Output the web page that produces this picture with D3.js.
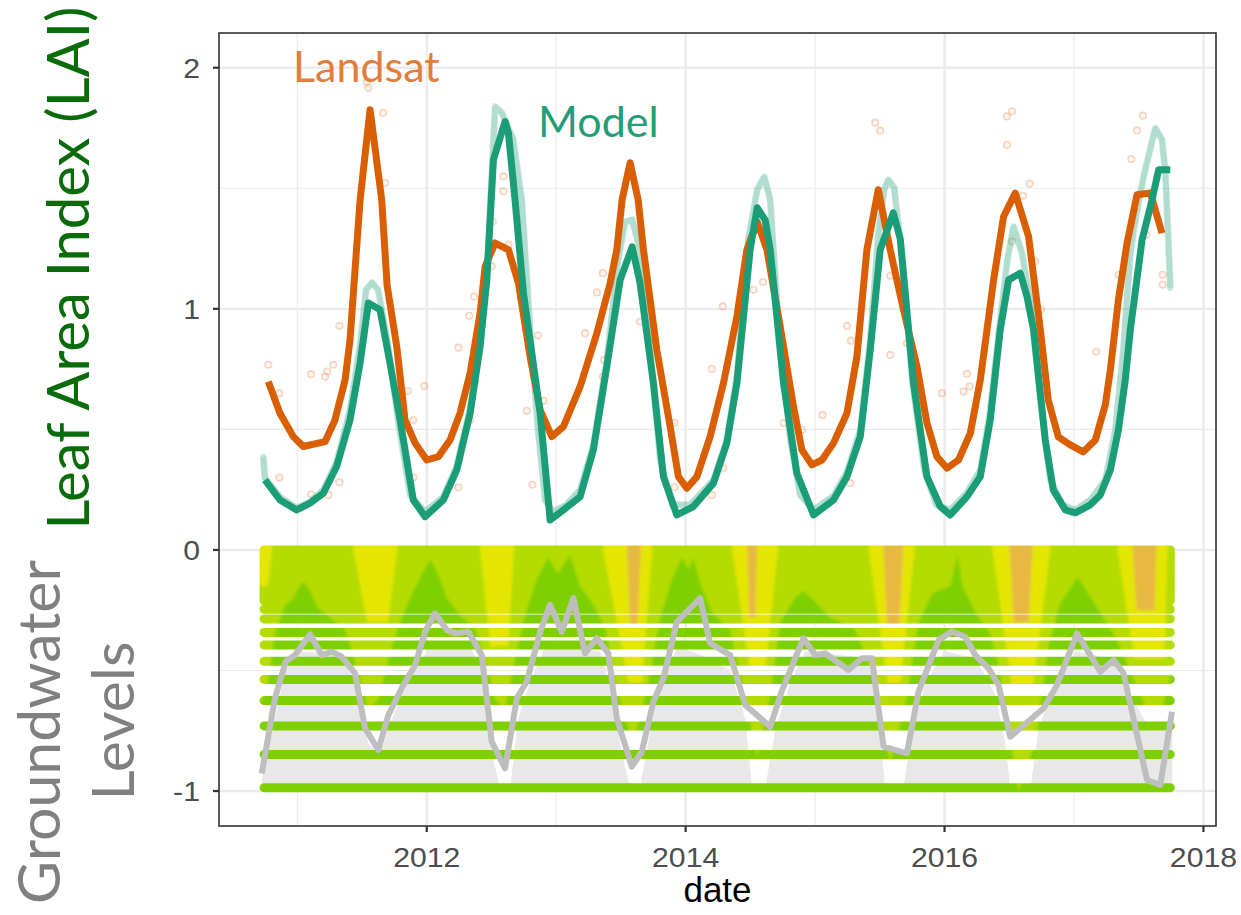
<!DOCTYPE html>
<html><head><meta charset="utf-8">
<script src="https://cdn.jsdelivr.net/npm/d3@7"></script>
<style>body{margin:0;background:#fff}svg{display:block}</style>
</head><body><svg id="chart" width="1241" height="915"></svg>
<script>
// ---------- data ----------
const xTicks = [2012, 2014, 2016, 2018];
const xMinor = [2011, 2013, 2015, 2017];
const yTicks = [-1, 0, 1, 2];
const yMinor = [-0.5, 0.5, 1.5];

// Landsat smoothed LAI [decimal year, LAI]
const landsatLine = [[2010.776,0.698],[2010.866,0.567],[2010.969,0.470],[2011.046,0.429],[2011.214,0.449],[2011.291,0.539],[2011.369,0.705],[2011.407,0.871],[2011.485,1.452],[2011.562,1.826],[2011.652,1.452],[2011.693,1.100],[2011.768,0.844],[2011.832,0.539],[2011.910,0.443],[2012.000,0.373],[2012.090,0.387],[2012.180,0.456],[2012.257,0.567],[2012.335,0.733],[2012.412,0.982],[2012.451,1.176],[2012.528,1.273],[2012.631,1.245],[2012.708,1.107],[2012.798,0.802],[2012.876,0.581],[2012.966,0.470],[2013.056,0.512],[2013.185,0.678],[2013.314,0.899],[2013.417,1.107],[2013.468,1.245],[2013.509,1.452],[2013.571,1.606],[2013.633,1.452],[2013.674,1.245],[2013.777,0.830],[2013.880,0.512],[2013.944,0.304],[2014.009,0.256],[2014.087,0.304],[2014.189,0.470],[2014.292,0.692],[2014.396,0.968],[2014.473,1.245],[2014.553,1.361],[2014.628,1.245],[2014.730,0.927],[2014.833,0.595],[2014.898,0.415],[2014.975,0.353],[2015.053,0.373],[2015.142,0.443],[2015.246,0.567],[2015.323,0.802],[2015.400,1.245],[2015.488,1.494],[2015.580,1.245],[2015.683,0.996],[2015.787,0.761],[2015.864,0.526],[2015.941,0.387],[2016.019,0.339],[2016.108,0.373],[2016.199,0.484],[2016.276,0.705],[2016.328,0.913],[2016.379,1.120],[2016.456,1.383],[2016.546,1.480],[2016.649,1.300],[2016.740,0.913],[2016.801,0.622],[2016.879,0.469],[2016.971,0.436],[2017.072,0.407],[2017.165,0.456],[2017.242,0.602],[2017.281,0.747],[2017.343,1.037],[2017.410,1.273],[2017.487,1.473],[2017.590,1.480],[2017.680,1.314]];

// Landsat raw observations
const landsatObs = [[2010.776,0.768],[2010.861,0.650],[2010.861,0.300],[2011.106,0.729],[2011.106,0.231],[2011.214,0.719],[2011.232,0.740],[2011.278,0.768],[2011.325,0.929],[2011.240,0.228],[2011.325,0.281],[2011.536,1.942],[2011.549,1.916],[2011.662,1.813],[2011.678,1.522],[2011.853,0.660],[2011.896,0.539],[2011.896,0.300],[2011.981,0.680],[2012.244,0.839],[2012.244,0.260],[2012.329,0.971],[2012.335,0.539],[2012.366,1.051],[2012.373,0.698],[2012.502,1.176],[2012.510,1.362],[2012.592,1.549],[2012.592,1.487],[2012.631,1.266],[2012.773,0.577],[2012.816,0.270],[2012.858,0.889],[2012.901,0.618],[2013.223,0.899],[2013.314,1.068],[2013.360,1.148],[2013.360,0.719],[2013.370,0.788],[2013.648,0.947],[2013.764,0.871],[2013.913,0.528],[2013.913,0.260],[2014.202,0.750],[2014.202,0.228],[2014.287,1.010],[2014.292,0.339],[2014.524,1.079],[2014.597,1.111],[2014.756,0.526],[2014.898,0.498],[2015.057,0.560],[2015.246,0.929],[2015.271,0.277],[2015.277,0.868],[2015.464,1.772],[2015.503,1.739],[2015.580,1.137],[2015.580,0.809],[2015.709,0.858],[2015.980,0.650],[2016.147,0.657],[2016.173,0.730],[2016.193,0.678],[2016.482,1.798],[2016.521,1.819],[2016.482,1.680],[2016.521,1.279],[2016.606,1.469],[2016.657,1.519],[2016.701,1.196],[2016.745,0.996],[2016.801,0.382],[2017.172,0.822],[2017.345,1.141],[2017.443,1.621],[2017.487,1.740],[2017.533,1.801],[2017.559,1.307],[2017.685,1.141],[2017.685,1.100]];

// Model LAI, smoothed
const modelLine = [[2010.750,0.290],[2010.866,0.207],[2010.995,0.166],[2011.098,0.194],[2011.201,0.235],[2011.304,0.346],[2011.407,0.539],[2011.485,0.775],[2011.549,1.024],[2011.639,0.996],[2011.716,0.775],[2011.794,0.539],[2011.896,0.207],[2011.987,0.138],[2012.128,0.207],[2012.232,0.332],[2012.335,0.567],[2012.412,0.844],[2012.464,1.120],[2012.515,1.618],[2012.605,1.777],[2012.631,1.729],[2012.682,1.452],[2012.747,1.065],[2012.876,0.567],[2012.953,0.124],[2013.056,0.166],[2013.185,0.221],[2013.287,0.415],[2013.391,0.761],[2013.494,1.120],[2013.587,1.257],[2013.648,1.107],[2013.751,0.692],[2013.828,0.304],[2013.932,0.145],[2014.060,0.180],[2014.215,0.277],[2014.318,0.443],[2014.396,0.692],[2014.498,1.245],[2014.553,1.419],[2014.614,1.369],[2014.653,1.245],[2014.756,0.692],[2014.859,0.318],[2014.988,0.145],[2015.142,0.207],[2015.246,0.304],[2015.349,0.470],[2015.426,0.830],[2015.503,1.245],[2015.604,1.398],[2015.658,1.290],[2015.760,0.692],[2015.864,0.304],[2015.967,0.180],[2016.044,0.145],[2016.173,0.221],[2016.276,0.304],[2016.353,0.539],[2016.430,0.913],[2016.495,1.120],[2016.585,1.148],[2016.637,1.051],[2016.688,0.913],[2016.778,0.456],[2016.840,0.249],[2016.933,0.166],[2017.010,0.154],[2017.126,0.187],[2017.203,0.228],[2017.281,0.332],[2017.343,0.498],[2017.396,0.705],[2017.435,0.913],[2017.526,1.286],[2017.603,1.452],[2017.654,1.577],[2017.744,1.577]];

// Model daily output (faint trail)
const modelDaily = [[2010.737,0.387],[2010.750,0.299],[2010.866,0.220],[2010.995,0.174],[2011.098,0.199],[2011.201,0.249],[2011.304,0.365],[2011.407,0.581],[2011.485,0.851],[2011.531,1.079],[2011.577,1.108],[2011.624,1.079],[2011.701,0.851],[2011.778,0.539],[2011.871,0.228],[2011.987,0.158],[2012.128,0.220],[2012.232,0.349],[2012.335,0.589],[2012.412,0.871],[2012.474,1.245],[2012.528,1.839],[2012.580,1.813],[2012.669,1.701],[2012.734,1.452],[2012.798,0.913],[2012.860,0.498],[2012.914,0.207],[2012.976,0.158],[2013.077,0.187],[2013.185,0.249],[2013.287,0.436],[2013.391,0.788],[2013.478,1.203],[2013.532,1.361],[2013.587,1.369],[2013.648,1.245],[2013.726,0.830],[2013.803,0.373],[2013.896,0.187],[2014.035,0.187],[2014.215,0.290],[2014.318,0.456],[2014.396,0.726],[2014.483,1.286],[2014.553,1.494],[2014.607,1.548],[2014.653,1.452],[2014.715,0.954],[2014.808,0.456],[2014.885,0.228],[2014.988,0.166],[2015.142,0.224],[2015.246,0.324],[2015.349,0.498],[2015.426,0.871],[2015.488,1.307],[2015.534,1.494],[2015.565,1.535],[2015.611,1.502],[2015.673,1.203],[2015.750,0.705],[2015.843,0.332],[2015.936,0.187],[2016.044,0.166],[2016.173,0.237],[2016.276,0.332],[2016.353,0.581],[2016.430,0.954],[2016.485,1.203],[2016.533,1.341],[2016.598,1.231],[2016.662,1.037],[2016.740,0.622],[2016.817,0.290],[2016.910,0.187],[2017.010,0.166],[2017.126,0.207],[2017.242,0.290],[2017.319,0.498],[2017.381,0.830],[2017.435,1.228],[2017.474,1.369],[2017.538,1.549],[2017.628,1.750],[2017.680,1.701],[2017.706,1.564],[2017.731,1.259],[2017.744,1.086]];

// Groundwater level
const groundwater = [[2010.725,-0.927],[2010.828,-0.614],[2010.910,-0.463],[2010.982,-0.436],[2011.098,-0.350],[2011.189,-0.436],[2011.266,-0.422],[2011.343,-0.443],[2011.446,-0.512],[2011.523,-0.739],[2011.626,-0.830],[2011.703,-0.685],[2011.807,-0.573],[2011.910,-0.477],[2011.987,-0.339],[2012.064,-0.263],[2012.155,-0.332],[2012.219,-0.346],[2012.321,-0.339],[2012.425,-0.436],[2012.502,-0.795],[2012.605,-0.906],[2012.696,-0.614],[2012.773,-0.546],[2012.876,-0.339],[2012.953,-0.228],[2013.043,-0.339],[2013.133,-0.200],[2013.223,-0.429],[2013.314,-0.366],[2013.403,-0.429],[2013.468,-0.698],[2013.584,-0.899],[2013.661,-0.837],[2013.751,-0.629],[2013.828,-0.532],[2013.932,-0.298],[2014.112,-0.200],[2014.189,-0.387],[2014.344,-0.436],[2014.460,-0.643],[2014.653,-0.733],[2014.741,-0.588],[2014.910,-0.366],[2015.001,-0.436],[2015.078,-0.429],[2015.258,-0.498],[2015.362,-0.449],[2015.439,-0.449],[2015.529,-0.816],[2015.709,-0.844],[2015.799,-0.588],[2015.954,-0.373],[2016.057,-0.339],[2016.160,-0.360],[2016.237,-0.436],[2016.340,-0.491],[2016.417,-0.560],[2016.508,-0.775],[2016.765,-0.657],[2016.869,-0.560],[2017.023,-0.346],[2017.203,-0.505],[2017.306,-0.456],[2017.383,-0.512],[2017.564,-0.954],[2017.667,-0.975],[2017.757,-0.671]];

// Grey saturated-zone ribbon top
const greyTop = [[2010.727,-0.95],[2010.828,-0.70],[2010.905,-0.50],[2011.021,-0.42],[2011.330,-0.43],[2011.446,-0.55],[2011.546,-0.80],[2011.639,-0.85],[2011.716,-0.72],[2011.809,-0.60],[2011.910,-0.50],[2012.026,-0.40],[2012.335,-0.40],[2012.427,-0.50],[2012.505,-0.85],[2012.566,-1.05],[2012.644,-1.05],[2012.706,-0.70],[2012.798,-0.55],[2012.914,-0.40],[2013.339,-0.42],[2013.432,-0.60],[2013.509,-0.85],[2013.571,-1.05],[2013.648,-1.05],[2013.710,-0.80],[2013.803,-0.55],[2013.942,-0.40],[2014.189,-0.45],[2014.344,-0.50],[2014.460,-0.70],[2014.514,-1.05],[2014.615,-1.05],[2014.692,-0.75],[2014.808,-0.55],[2014.924,-0.42],[2015.426,-0.45],[2015.488,-0.70],[2015.542,-1.05],[2015.681,-1.05],[2015.751,-0.75],[2015.852,-0.55],[2016.006,-0.42],[2016.238,-0.45],[2016.393,-0.60],[2016.469,-0.80],[2016.508,-1.05],[2016.663,-1.05],[2016.725,-0.75],[2016.817,-0.60],[2017.010,-0.42],[2017.281,-0.45],[2017.435,-0.60],[2017.590,-0.75],[2017.760,-0.75]];

// Soil layers (depth) of the moisture plot
const soilDense = [0,-0.01,-0.02,-0.03,-0.04,-0.05,-0.06,-0.07,-0.08,-0.09,-0.10,-0.11,-0.12,-0.13,-0.14,-0.15,-0.16,-0.17,-0.18,-0.19,-0.20,-0.21];
const soilLayers = [-0.246,-0.286,-0.342,-0.394,-0.462,-0.537,-0.625,-0.730,-0.848,-0.986];
const soilStart = 2010.743, soilEnd = 2017.744;

// depth of wet (dark green) / moist (yellow-green) transition
const wetFront = [[2010.70,-0.62],[2010.727,-0.62],[2010.774,-0.55],[2010.828,-0.34],[2010.905,-0.23],[2010.967,-0.20],[2011.006,-0.16],[2011.044,-0.13],[2011.098,-0.17],[2011.160,-0.24],[2011.253,-0.28],[2011.369,-0.33],[2011.469,-0.50],[2011.549,-0.66],[2011.624,-0.62],[2011.701,-0.46],[2011.778,-0.32],[2011.871,-0.20],[2011.964,-0.10],[2012.026,-0.04],[2012.087,-0.10],[2012.157,-0.20],[2012.257,-0.27],[2012.373,-0.33],[2012.451,-0.45],[2012.528,-0.62],[2012.605,-0.66],[2012.682,-0.45],[2012.760,-0.27],[2012.852,-0.12],[2012.937,-0.03],[2013.014,-0.10],[2013.107,-0.02],[2013.185,-0.15],[2013.278,-0.22],[2013.378,-0.32],[2013.479,-0.60],[2013.595,-0.80],[2013.711,-0.55],[2013.803,-0.28],[2013.896,-0.12],[2013.974,-0.03],[2014.020,-0.08],[2014.059,-0.03],[2014.112,-0.14],[2014.205,-0.26],[2014.344,-0.33],[2014.437,-0.55],[2014.553,-0.86],[2014.653,-0.60],[2014.730,-0.30],[2014.845,-0.20],[2014.907,-0.17],[2014.976,-0.20],[2015.115,-0.28],[2015.308,-0.33],[2015.439,-0.50],[2015.578,-0.88],[2015.694,-0.65],[2015.799,-0.30],[2015.907,-0.18],[2016.046,-0.15],[2016.100,-0.02],[2016.138,-0.15],[2016.239,-0.26],[2016.355,-0.35],[2016.430,-0.50],[2016.569,-1.00],[2016.701,-0.80],[2016.801,-0.40],[2016.894,-0.22],[2016.971,-0.16],[2017.025,-0.11],[2017.110,-0.18],[2017.203,-0.26],[2017.319,-0.36],[2017.435,-0.50],[2017.590,-0.70],[2017.683,-0.65],[2017.760,-0.50],[2017.80,-0.50]];

// dry spells: yellow and orange zones [year, depth]
const drySpells = [
  [[2010.70,0],[2010.804,0],[2010.774,-0.15],[2010.70,-0.15]],
  [[2011.432,0],[2011.772,0],[2011.701,-0.30],[2011.539,-0.30]],
  [[2012.412,0],[2012.675,0],[2012.629,-0.40],[2012.490,-0.40]],
  [[2013.362,0],[2013.741,0],[2013.664,-0.55],[2013.556,-0.55]],
  [[2014.358,0],[2014.714,0],[2014.614,-0.50],[2014.498,-0.50]],
  [[2015.413,0],[2015.769,0],[2015.660,-0.55],[2015.560,-0.55]],
  [[2016.370,0],[2016.818,0],[2016.679,-0.58],[2016.524,-0.58]],
  [[2017.336,0],[2017.722,0],[2017.699,-0.45],[2017.467,-0.45]]
];
const hotSpells = [
  [[2013.546,0],[2013.656,0],[2013.625,-0.32],[2013.571,-0.32]],
  [[2014.475,0],[2014.553,0],[2014.537,-0.28],[2014.491,-0.28]],
  [[2015.526,0],[2015.681,0],[2015.650,-0.32],[2015.557,-0.32]],
  [[2016.503,0],[2016.681,0],[2016.650,-0.30],[2016.534,-0.30]],
  [[2017.452,0],[2017.638,0],[2017.622,-0.25],[2017.483,-0.25]]
];

// ---------- chart ----------
const svg = d3.select('#chart');
const L = 219, R = 1216, T = 33, B = 826;
const x = d3.scaleLinear().domain([2010.395, 2018.097]).range([L, R]);
const y = d3.scaleLinear().domain([-1.145, 2.144]).range([B, T]);

const defs = svg.append('defs');
defs.append('clipPath').attr('id','panel')
  .append('rect').attr('x',L).attr('y',T).attr('width',R-L).attr('height',B-T);
const blur = defs.append('filter').attr('id','soft').attr('x','-5%').attr('y','-5%').attr('width','110%').attr('height','110%');
blur.append('feGaussianBlur').attr('stdDeviation',1.6);

const grid = svg.append('g');
grid.selectAll('.ym').data(yMinor).join('line')
  .attr('x1',L).attr('x2',R).attr('y1',d=>y(d)).attr('y2',d=>y(d))
  .attr('stroke','#ebebeb').attr('stroke-width',1.2);
grid.selectAll('.xm').data(xMinor).join('line')
  .attr('y1',T).attr('y2',B).attr('x1',d=>x(d)).attr('x2',d=>x(d))
  .attr('stroke','#ebebeb').attr('stroke-width',1.2);
grid.selectAll('.yM').data(yTicks).join('line')
  .attr('x1',L).attr('x2',R).attr('y1',d=>y(d)).attr('y2',d=>y(d))
  .attr('stroke','#ebebeb').attr('stroke-width',2.4);
grid.selectAll('.xM').data(xTicks).join('line')
  .attr('y1',T).attr('y2',B).attr('x1',d=>x(d)).attr('x2',d=>x(d))
  .attr('stroke','#ebebeb').attr('stroke-width',2.4);

const plot = svg.append('g').attr('clip-path','url(#panel)');

// grey ribbon
const floor = soilLayers[soilLayers.length-1];
plot.append('path').datum(greyTop)
  .attr('d', d3.area().x(d=>x(d[0])).y0(y(floor)).y1(d=>y(Math.max(d[1],floor))))
  .attr('fill','#e8e8e8');

// soil moisture rows
const rowsClip = defs.append('clipPath').attr('id','rows');
rowsClip.selectAll('rect').data(soilDense.concat(soilLayers)).join('rect')
  .attr('x', x(soilStart)-4.5).attr('width', x(soilEnd)-x(soilStart)+9)
  .attr('y', d=>y(d)-4.5).attr('height',9).attr('rx',4.5);
const field = plot.append('g').attr('clip-path','url(#rows)');
const inner = field.append('g').attr('filter','url(#soft)');
inner.append('rect').attr('x',x(soilStart)-8).attr('width',x(soilEnd)-x(soilStart)+16)
  .attr('y',y(0.08)).attr('height',y(-1.08)-y(0.08)).attr('fill','#7fd000');
inner.append('path').datum(wetFront)
  .attr('d', d3.area().x(d=>x(d[0])).y0(y(0.08)).y1(d=>y(d[1])))
  .attr('fill','#b4dc00');
const poly = d3.line().x(d=>x(d[0])).y(d=>y(d[1]));
inner.selectAll('.dry').data(drySpells).join('path')
  .attr('d', d=>poly([[d[0][0],0.08],[d[1][0],0.08],d[1],d[2],d[3],d[0]])+'Z')
  .attr('fill','#e4e600');
inner.selectAll('.hot').data(hotSpells).join('path')
  .attr('d', d=>poly([[d[0][0],0.08],[d[1][0],0.08],d[1],d[2],d[3],d[0]])+'Z')
  .attr('fill','#e8b448').attr('opacity',0.9);

// groundwater line
plot.append('path').datum(groundwater)
  .attr('d', d3.line().x(d=>x(d[0])).y(d=>y(d[1])))
  .attr('fill','none').attr('stroke','#bebebe').attr('stroke-width',6)
  .attr('stroke-linejoin','round');

// Landsat observations
plot.selectAll('.obs').data(landsatObs).join('circle')
  .attr('cx',d=>x(d[0])).attr('cy',d=>y(d[1])).attr('r',3.3)
  .attr('fill','#e8844a').attr('fill-opacity',0.08)
  .attr('stroke','#e8844a').attr('stroke-opacity',0.32).attr('stroke-width',1.6);

// model daily faint trail (drawn as dots along the series)
plot.append('path').datum(modelDaily)
  .attr('d', d3.line().x(d=>x(d[0])).y(d=>y(d[1])))
  .attr('fill','none').attr('stroke','#1b9e77').attr('stroke-opacity',0.16)
  .attr('stroke-width',7).attr('stroke-linejoin','round');
plot.append('path').datum(modelDaily)
  .attr('d', d3.line().x(d=>x(d[0])).y(d=>y(d[1])))
  .attr('fill','none').attr('stroke','#1b9e77').attr('stroke-opacity',0.22)
  .attr('stroke-width',6).attr('stroke-linecap','round').attr('stroke-dasharray','0.1 3');

// Landsat line
plot.append('path').datum(landsatLine)
  .attr('d', d3.line().x(d=>x(d[0])).y(d=>y(d[1])))
  .attr('fill','none').attr('stroke','#d95f02').attr('stroke-width',7)
  .attr('stroke-linejoin','round');
// Model line
plot.append('path').datum(modelLine)
  .attr('d', d3.line().x(d=>x(d[0])).y(d=>y(d[1])))
  .attr('fill','none').attr('stroke','#1b9e77').attr('stroke-width',7)
  .attr('stroke-linejoin','round');

// panel border
svg.append('rect').attr('x',L).attr('y',T).attr('width',R-L).attr('height',B-T)
  .attr('fill','none').attr('stroke','#333333').attr('stroke-width',1.6);

// axes ticks
svg.selectAll('.yt').data(yTicks).join('line')
  .attr('x1',L-6).attr('x2',L).attr('y1',d=>y(d)).attr('y2',d=>y(d))
  .attr('stroke','#333').attr('stroke-width',2.2);
svg.selectAll('.xt').data(xTicks).join('line')
  .attr('y1',B).attr('y2',B+6).attr('x1',d=>x(d)).attr('x2',d=>x(d))
  .attr('stroke','#333').attr('stroke-width',2.2);
svg.selectAll('.yl').data(yTicks).join('text')
  .attr('transform',d=>`translate(${L-19},${y(d)+10}) scale(1.12,1)`).attr('text-anchor','end')
  .attr('font-family','Liberation Sans, Arial, sans-serif').attr('font-size',27)
  .attr('fill','#4d4d4d').text(d=>String(d));
svg.selectAll('.xl').data(xTicks).join('text')
  .attr('transform',d=>`translate(${x(d)},${B+41}) scale(1.12,1)`).attr('text-anchor','middle')
  .attr('font-family','Liberation Sans, Arial, sans-serif').attr('font-size',27)
  .attr('fill','#4d4d4d').text(d=>d);
svg.append('text').attr('x',(L+R)/2).attr('y',902).attr('text-anchor','middle')
  .attr('font-family','Liberation Sans, Arial, sans-serif').attr('font-size',35)
  .attr('fill','#000').text('date');

// titles & annotations
const ff = 'Lato, Open Sans, sans-serif';
svg.append('text').attr('transform','translate(89,268) rotate(-90)')
  .attr('text-anchor','middle').attr('font-family',ff).attr('font-size',58)
  .attr('fill','#0a6b0a').text('Leaf Area Index (LAI)');
svg.append('text').attr('transform','translate(60,732) rotate(-90)')
  .attr('text-anchor','middle').attr('font-family',ff).attr('font-size',59)
  .attr('fill','#808080').text('Groundwater');
svg.append('text').attr('transform','translate(134,721) rotate(-90)')
  .attr('text-anchor','middle').attr('font-family',ff).attr('font-size',59)
  .attr('fill','#808080').text('Levels');
svg.append('text').attr('x',293).attr('y',82).attr('font-family',ff).attr('font-size',43)
  .attr('fill','#e47d3c').text('Landsat');
svg.append('text').attr('x',538).attr('y',137).attr('font-family',ff).attr('font-size',43)
  .attr('fill','#1f9e78').text('Model');
</script></body></html>
